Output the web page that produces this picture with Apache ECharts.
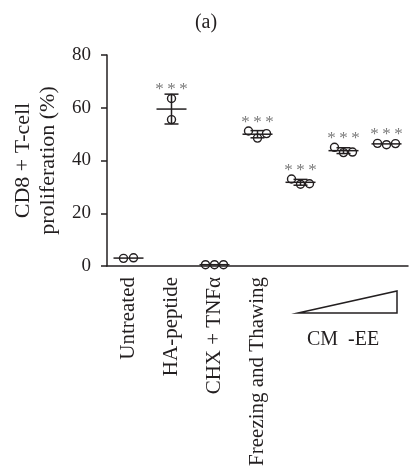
<!DOCTYPE html>
<html>
<head>
<meta charset="utf-8">
<script src="https://cdn.jsdelivr.net/npm/echarts@6/dist/echarts.min.js"></script>
<style>
html,body{margin:0;padding:0;background:#fff;}
#c{width:412px;height:471px;}
</style>
</head>
<body>
<div id="c"></div>
<script>
// ---- data ----
const categories = ['Untreated', 'HA-peptide', 'CHX + TNF\u03b1', 'Freezing and Thawing', 'CM-EE 1', 'CM-EE 2', 'CM-EE 3'];
const shownLabels = ['Untreated', 'HA-peptide', 'CHX + TNF\u03b1', 'Freezing and Thawing', '', '', ''];
const rep1 = [2.9, 63.5, 0.5, 51.2, 33.0, 45.0, 46.5];
const rep2 = [3.1, 55.5, 0.5, 48.5, 31.0, 43.0, 46.0];
const rep3 = [null, null, 0.5, 50.2, 31.2, 43.2, 46.4];
const significance = ['', '***', '', '***', '***', '***', '***'];
const yTicks = [0, 20, 40, 60, 80];

const FONT = '"Liberation Serif", "DejaVu Serif", serif';
const INK = '#231f20';

function stats(vals) {
  const m = vals.reduce((a, b) => a + b, 0) / vals.length;
  const sd = vals.length > 1 ? Math.sqrt(vals.reduce((a, b) => a + (b - m) * (b - m), 0) / (vals.length - 1)) : 0;
  return { m, sd };
}

const groups = categories.map((c, i) => [rep1[i], rep2[i], rep3[i]].filter(v => v !== null && v !== undefined));

const chart = echarts.init(document.getElementById('c'));
chart.setOption({
  animation: false,
  title: {
    text: '(a)', left: 'center', top: 8,
    textStyle: { fontFamily: FONT, fontSize: 20, fontWeight: 'normal', color: INK }
  },
  grid: { left: 107, right: 4, top: 55, bottom: 205, containLabel: false },
  xAxis: {
    type: 'category', data: categories,
    axisLine: { lineStyle: { color: INK, width: 1.5 } },
    axisTick: { show: false },
    axisLabel: {
      rotate: 90, margin: 11, interval: 0,
      fontFamily: FONT, fontSize: 21, color: INK,
      formatter: (v, i) => shownLabels[i]
    }
  },
  yAxis: {
    type: 'value', min: yTicks[0], max: yTicks[yTicks.length - 1], interval: 20,
    name: 'CD8 + T-cell\nproliferation (%)', nameLocation: 'middle', nameGap: 44,
    nameTextStyle: { fontFamily: FONT, fontSize: 22, color: INK, lineHeight: 25 },
    axisLine: { show: true, lineStyle: { color: INK, width: 1.5 } },
    axisTick: { show: true, length: 6, lineStyle: { color: INK, width: 1.5 } },
    splitLine: { show: false },
    axisLabel: { fontFamily: FONT, fontSize: 19, color: INK, margin: 16 }
  },
  series: [{
    type: 'custom',
    data: categories.map((c, i) => [i]),
    encode: { x: 0 },
    renderItem: function (params, api) {
      const i = api.value(0);
      const vals = groups[i];
      const st = stats(vals);
      const cx = api.coord([i, st.m])[0];
      const my = api.coord([i, st.m])[1];
      const topY = api.coord([i, st.m + st.sd])[1];
      const botY = api.coord([i, st.m - st.sd])[1];
      const children = [];
      const ls = { stroke: INK, lineWidth: 1.5 };
      let offs;
      const pys = vals.map(v => api.coord([i, v])[1]);
      const spread = Math.max.apply(null, pys) - Math.min.apply(null, pys);
      if (vals.length === 3) offs = [-9, 0, 9];
      else if (vals.length === 2) offs = spread < 9 ? [-5, 5] : [0, 0];
      else offs = [0];
      children.push({ type: 'line', shape: { x1: cx - 15, y1: my, x2: cx + 15, y2: my }, style: ls });
      if (st.sd * 2.6 > 1.5) {
        children.push({ type: 'line', shape: { x1: cx, y1: topY, x2: cx, y2: botY }, style: ls });
        children.push({ type: 'line', shape: { x1: cx - 7, y1: topY, x2: cx + 7, y2: topY }, style: ls });
        children.push({ type: 'line', shape: { x1: cx - 7, y1: botY, x2: cx + 7, y2: botY }, style: ls });
      }
      vals.forEach((v, k) => {
        children.push({
          type: 'circle',
          shape: { cx: cx + offs[k], cy: pys[k], r: 4 },
          style: { stroke: INK, lineWidth: 1.4, fill: 'rgba(255,255,255,0)' }
        });
      });
      if (significance[i]) {
        const top = Math.min(topY, Math.min.apply(null, pys) - 4);
        const txt = significance[i].split('').join('\u2009');
        children.push({
          type: 'text',
          style: {
            text: txt, x: cx, y: top + 4,
            align: 'center', verticalAlign: 'bottom',
            font: '17px ' + FONT, fill: '#7a7a7a'
          }
        });
      }
      return { type: 'group', children };
    }
  }],
  graphic: [
    {
      type: 'polygon',
      shape: { points: [[298, 313], [397, 291], [397, 313]] },
      style: { fill: 'none', stroke: INK, lineWidth: 1.5 }
    },
    {
      type: 'text',
      x: 343, y: 340,
      style: { text: 'CM  -EE', align: 'center', verticalAlign: 'middle', font: '20px ' + FONT, fill: INK }
    }
  ]
});
</script>
</body>
</html>
